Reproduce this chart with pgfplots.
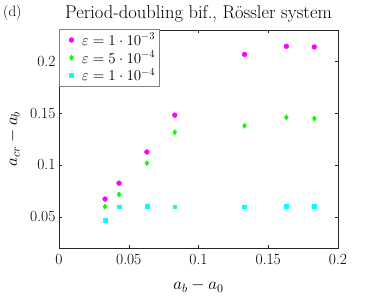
\RequirePackage{fix-cm}
\documentclass[border=0pt]{standalone}
\usepackage{pgfplots}
\pgfplotsset{compat=1.18}
\begin{document}
\begin{tikzpicture}
\definecolor{mag}{rgb}{1,0,1}
\definecolor{grn}{rgb}{0,1,0}
\definecolor{cyn}{rgb}{0,1,1}
\definecolor{axgray}{rgb}{0.15,0.15,0.15}
\useasboundingbox (-59pt,-49pt) rectangle (315pt,248pt);
\begin{axis}[
  at={(0pt,0pt)}, anchor=south west,
  scale only axis,
  width=279pt, height=218pt,
  xmin=0, xmax=0.2, ymin=0.02, ymax=0.23,
  xtick={0,0.05,0.1,0.15,0.2},
  ytick={0.05,0.1,0.15,0.2},
  xticklabels={0,0.05,0.1,0.15,0.2},
  yticklabels={0.05,0.1,0.15,0.2},
  tick label style={font=\fontsize{15.5}{18}\selectfont},
  xticklabel style={yshift=-3pt},
  tick align=inside,
  major tick length=3pt,
  axis line style={axgray, line width=0.5pt},
  every tick/.style={axgray},
  xlabel={$a_b - a_0$},
  ylabel={$a_{cr} - a_b$},
  label style={font=\fontsize{17}{20}\selectfont},
  xlabel style={at={(0.5,0)}, anchor=center, yshift=-38pt},
  ylabel style={at={(0,0.5)}, anchor=center, yshift=45.5pt},
  legend style={at={(0,1.005)}, anchor=north west, draw=black!50, font=\fontsize{15}{18}\selectfont, row sep=0pt, inner xsep=2pt, inner ysep=2pt, line width=0.5pt},
  legend image code/.code={\path (0pt,0pt) (18pt,0pt); \draw[#1] plot coordinates {(10pt,0pt)};},
  legend cell align=left,
  clip=false,
]
\addplot[only marks, mark=*, mark size=2.4pt, color=mag] coordinates {
(0.033,0.0672) (0.043,0.0825) (0.063,0.1125) (0.083,0.148) (0.133,0.2065) (0.163,0.2143) (0.183,0.2137)};
\addlegendentry{$\varepsilon = 1\cdot 10^{-3}$}
\addplot[only marks, mark=diamond*, mark size=2.6pt, color=grn] coordinates {
(0.033,0.0598) (0.043,0.0716) (0.063,0.1017) (0.083,0.1315) (0.133,0.1378) (0.163,0.1458) (0.183,0.1448)};
\addlegendentry{$\varepsilon = 5\cdot 10^{-4}$}
\addplot[only marks, mark=square*, mark size=1.9pt, color=cyn] coordinates {
(0.033,0.0468) (0.043,0.0597) (0.063,0.0605) (0.083,0.0597) (0.133,0.0598) (0.163,0.0601) (0.183,0.0600)};
\addlegendentry{$\varepsilon = 1\cdot 10^{-4}$}
\end{axis}
\node[anchor=center, inner sep=0pt, font=\fontsize{18.5}{22}\selectfont] at (139.5pt,234pt) {Period-doubling bif., R\"ossler system};
\node[anchor=west, inner sep=0pt, font=\fontsize{15}{18}\selectfont] at (-56pt,235pt) {(d)};
\end{tikzpicture}
\end{document}
